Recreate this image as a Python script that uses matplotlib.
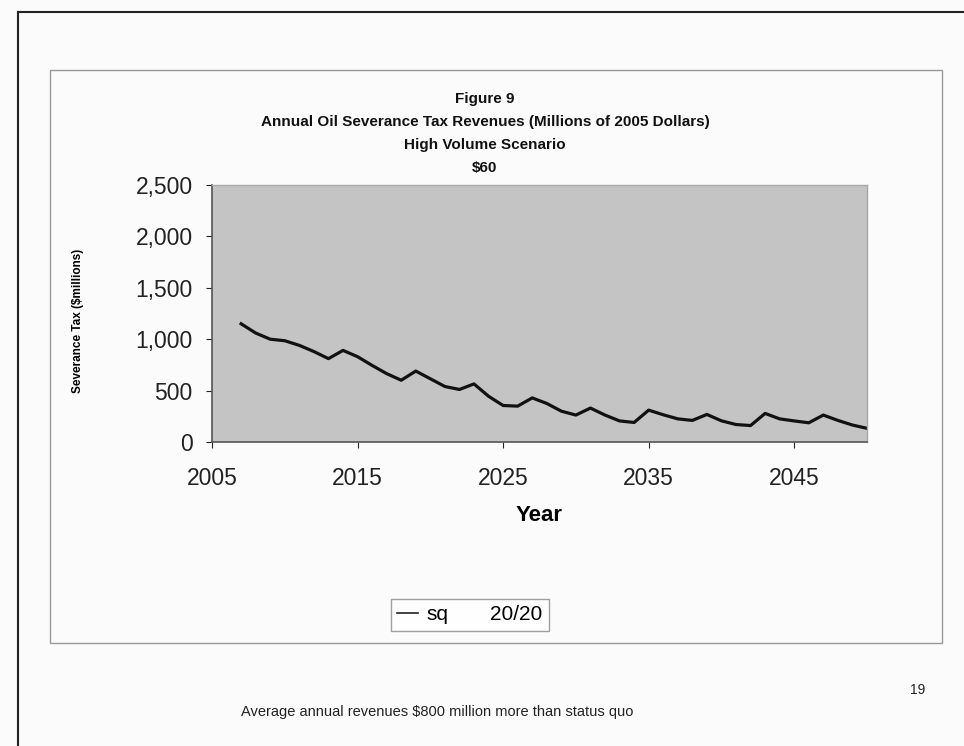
import matplotlib.pyplot as plt
from matplotlib.lines import Line2D
from matplotlib.patches import Rectangle

plt.rcParams['font.family'] = ['Liberation Sans', 'DejaVu Sans']

# severance tax, status quo series ($ millions, 2005 dollars)
years = list(range(2007, 2051))
sq = [1150, 1060, 1000, 985, 940, 880, 811, 891, 830, 745,
      665, 601, 690, 615, 540, 511, 565, 445, 355, 349,
      429, 375, 300, 262, 330, 262, 205, 190, 310, 265,
      225, 210, 268, 206, 170, 160, 278, 225, 205, 187,
      262, 210, 165, 133]
y_ticks = [0, 500, 1000, 1500, 2000, 2500]
x_ticks = [2005, 2015, 2025, 2035, 2045]

title_lines = ['Figure 9',
               'Annual Oil Severance Tax Revenues (Millions of 2005 Dollars)',
               'High Volume Scenario',
               '$60']

fig = plt.figure(figsize=(9.64, 7.46), dpi=100)
fig.patch.set_facecolor('#fbfbfb')

# page frame and chart box
fig.add_artist(Line2D([18/964, 18/964], [0, 1 - 12/746], color='#222222', lw=1.5))
fig.add_artist(Line2D([18/964, 1], [1 - 12/746, 1 - 12/746], color='#222222', lw=1.5))
fig.add_artist(Rectangle((50/964, 1 - 643/746), (942-50)/964, (643-70)/746,
                         fill=False, edgecolor='#9a9a9a', lw=1.0))

ax = fig.add_axes([212/964, 1 - 442/746, (867-212)/964, (442-185)/746])
ax.set_facecolor('#c4c4c4')
ax.plot(years, sq, color='#111111', lw=2.3, solid_joinstyle='round', label='sq')

ax.set_xlim(2005, 2050)
ax.set_ylim(0, 2500)
ax.set_yticks(y_ticks)
ax.set_yticklabels([f'{v:,}' for v in y_ticks])
ax.set_xticks(x_ticks)
ax.set_xticklabels([str(v) for v in x_ticks])
ax.tick_params(axis='both', labelsize=16.5, colors='#222222', length=4, width=0.8)
ax.tick_params(axis='y', pad=10)
ax.tick_params(axis='x', pad=14)
for s in ['left', 'bottom']:
    ax.spines[s].set_color('#555555')
    ax.spines[s].set_linewidth(1.2)
for s in ['top', 'right']:
    ax.spines[s].set_color('#a8a8a8')
    ax.spines[s].set_linewidth(1.0)

ax.set_xlabel('Year', fontsize=16, fontweight='bold', labelpad=11)
fig.text(78/964, 1 - 321/746, 'Severance Tax ($millions)', rotation=90,
         ha='center', va='center', fontsize=8.5, fontweight='bold',
         family=['Liberation Sans Narrow', 'Liberation Sans'])

for i, line in enumerate(title_lines):
    fig.text(485/964, 1 - (99 + 23*i)/746, line, ha='center', va='center',
             fontsize=11, fontweight='bold', color='#111111')

handles = [Line2D([], [], color='#222222', lw=1.2),
           Line2D([], [], color='none')]
fig.legend(handles, ['sq', '20/20'], loc='center', bbox_to_anchor=(470/964, 1 - 615/746),
           ncol=2, fontsize=15, frameon=True, fancybox=False, edgecolor='#888888',
           handlelength=1.0, handletextpad=0.4, columnspacing=0.6, borderpad=0.3)

fig.text(437/964, 1 - 712/746, 'Average annual revenues $800 million more than status quo',
         ha='center', va='center', fontsize=10.5, color='#222222')
fig.text(918/964, 1 - 690/746, '19', ha='center', va='center', fontsize=10, color='#222222')

fig.savefig('out.png', dpi=100, facecolor=fig.get_facecolor())
